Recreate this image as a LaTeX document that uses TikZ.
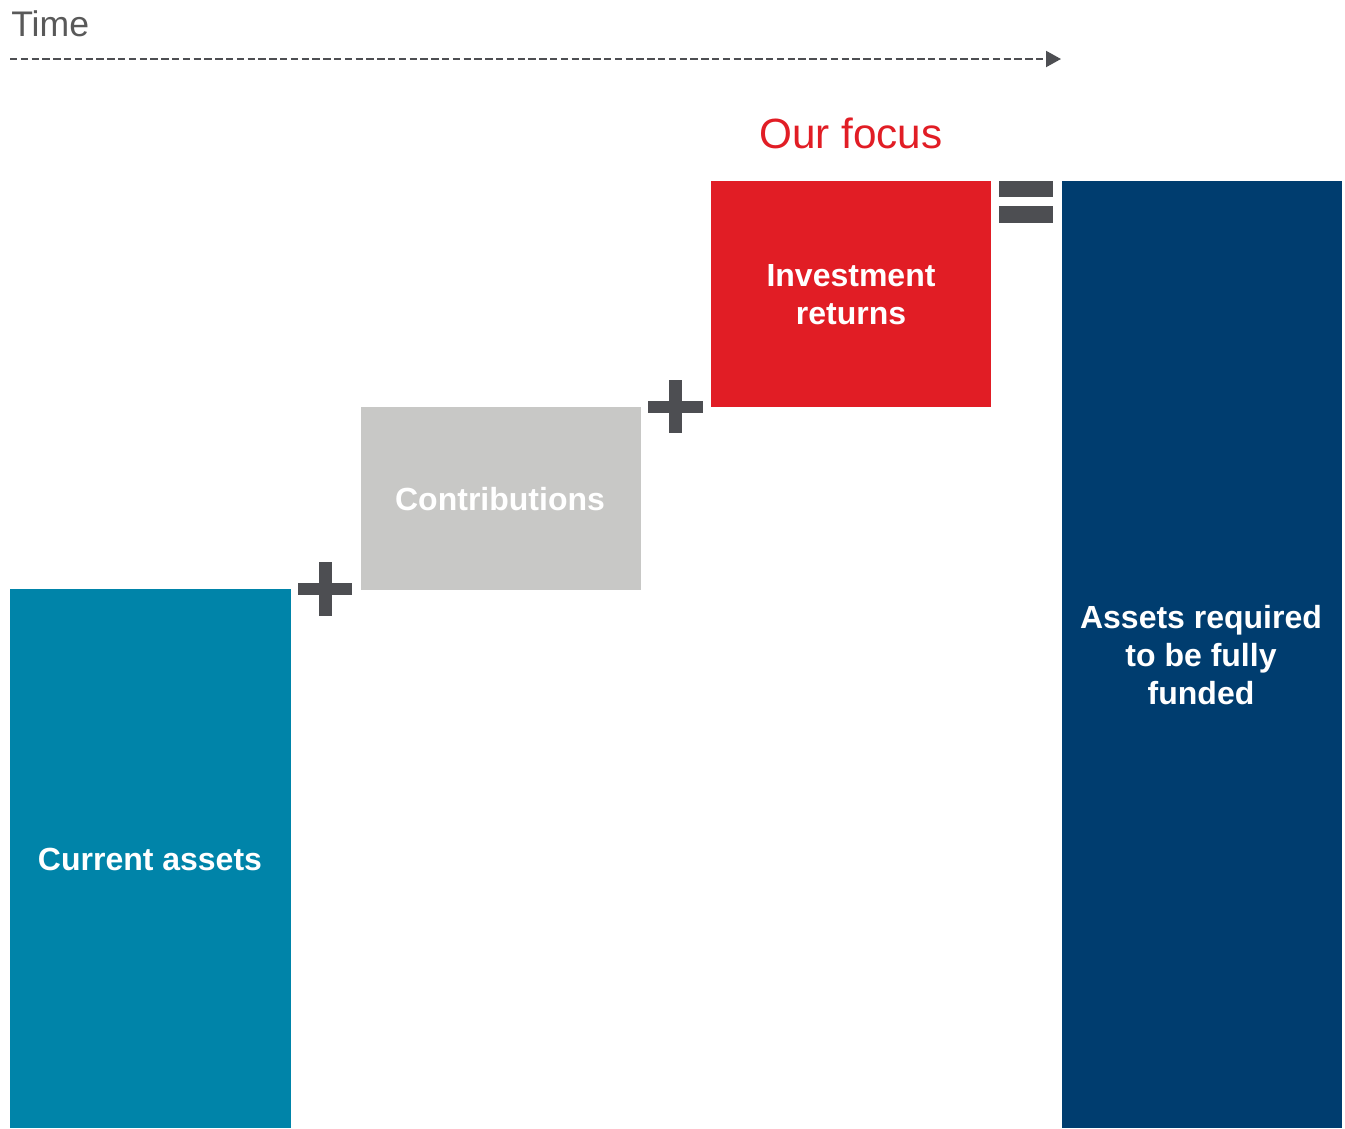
\documentclass[tikz,border=0pt]{standalone}
\usepackage{fontspec}
\setmainfont{Liberation Sans}
\usepackage{xcolor}
\usetikzlibrary{arrows.meta}

\definecolor{tealbar}{HTML}{0084A9}
\definecolor{greybar}{HTML}{C8C8C6}
\definecolor{redbar}{HTML}{E11D25}
\definecolor{navybar}{HTML}{003D6F}
\definecolor{signgrey}{HTML}{4D4E52}
\definecolor{timegrey}{HTML}{595959}

\tikzset{
  barlabel/.style={text=white, align=center, inner sep=0pt,
    font=\bfseries\fontsize{24}{28.5}\selectfont},
  sign/.style={fill=signgrey}
}

\begin{document}
\begin{tikzpicture}[x=0.75pt, y=-0.75pt]
  % Keep the frame of the reference
  \useasboundingbox (0,0) rectangle (1345,1128);

  % Time axis
  \node[anchor=base west, inner sep=0pt, text=timegrey,
    font=\fontsize{26.7}{30}\selectfont] (time) at (11,36) {Time};
  \coordinate (tstart) at (10,59);
  \coordinate (tend) at (1061,59);
  \draw[signgrey, line width=1.5pt, dash pattern=on 5.5pt off 2.6pt,
    -{Triangle[length=11.25pt, width=12pt]}] (tstart) -- (tend);

  % The bars
  \fill[tealbar] (10,589) rectangle (291,1128);
  \fill[greybar] (361,407) rectangle (641,590);
  \fill[redbar] (711,181) rectangle (991,407);
  \fill[navybar] (1062,181) rectangle (1342,1128);

  % Plus and equals signs
  \fill[sign] (298,583) rectangle ++(54,12);
  \fill[sign] (319,562) rectangle ++(13,54);
  \fill[sign] (648,401) rectangle ++(55,12);
  \fill[sign] (669,380) rectangle ++(13,53);
  \fill[sign] (999,181) rectangle (1053,197);
  \fill[sign] (999,206) rectangle (1053,223);

  % Labels
  \node[barlabel] (current) at (150,859) {Current assets};
  \node[barlabel] (contrib) at (500,499) {Contributions};
  \node[barlabel] (invest) at (851,295) {Investment\\returns};
  \node[barlabel] (required) at (1201,655) {Assets required\\to be fully\\funded};
  \node[text=redbar, inner sep=0pt, font=\fontsize{31.7}{36}\selectfont]
    (focus) at (851,133) {Our focus};
\end{tikzpicture}
\end{document}
